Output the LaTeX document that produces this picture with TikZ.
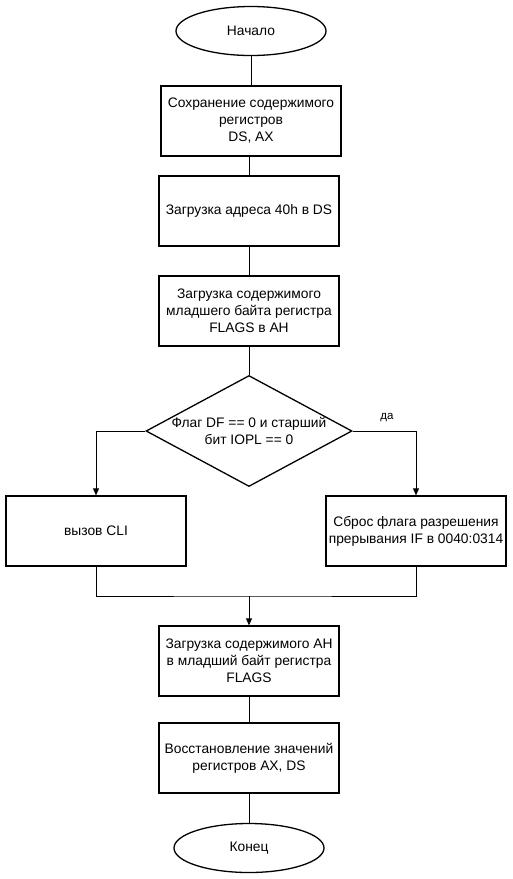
\documentclass[tikz,border=0pt]{standalone}
\usepackage{fontspec}
\setmainfont{Liberation Sans}
\usetikzlibrary{shapes.geometric, arrows.meta}

\tikzset{
    block/.style={draw, line width=1.3pt, minimum width=180pt, minimum height=70pt, inner sep=0.5pt, align=center},
    terminal/.style={draw, ellipse, line width=1.3pt, minimum width=150pt, minimum height=49pt, inner sep=0pt},
    decision/.style={draw, diamond, line width=1.3pt, minimum width=206pt, minimum height=111pt, inner sep=0pt},
    line/.style={line width=0.8pt},
    arrow/.style={line width=0.8pt, -{Triangle[length=7pt, width=6pt]}}
}

\begin{document}
\begin{tikzpicture}[x=1pt, y=-1pt, font=\fontsize{13.8}{17}\selectfont]
        \useasboundingbox (0,0) rectangle (512,879);

        % top part
        \node[terminal] (start) at (251,31) {Начало};
        \node[block] (save) at (251,121) {Сохранение содержимого\\регистров\\DS, AX};
        \node[block] (loadds) at (249,211) {Загрузка адреса 40h в DS};
        \node[block] (loadah) at (249,311) {Загрузка содержимого\\младшего байта регистра\\FLAGS в AH};

        % check
        \node[decision] (check) at (249,431) {};
        \node[align=center] (checktext) at (check.center) {Флаг DF == 0 и старший\\бит IOPL == 0};

        \node[block] (cli) at (96,531) {вызов CLI};
        \node[block] (resetif) at (416,531) {Сброс флага разрешения\\прерывания IF в 0040:0314};

        \coordinate (merge) at (249,596);

        % bottom part
        \node[block] (storeah) at (249,661) {Загрузка содержимого AH\\в младший байт регистра\\FLAGS};
        \node[block] (restore) at (249,758) {Восстановление значений\\регистров AX, DS};
        \node[terminal] (finish) at (249,848) {Конец};

        \draw[line] (start) -- (save);
        \draw[line] (loadds.north |- save.south) -- (loadds.north);
        \draw[line] (loadds) -- (loadah);
        \draw[line] (loadah) -- (check);

        \draw[arrow] (check.west) -| (cli.north);
        \draw[arrow] (check.east) -| (resetif.north) node[pos=0.27, above=5pt, font=\fontsize{11.5}{14}\selectfont] {да};

        \draw[line] (cli.south) |- (merge) -| (resetif.south);
        \draw[arrow] (merge) -- (storeah.north);

        \draw[line] (storeah) -- (restore);
        \draw[line] (restore) -- (finish);
\end{tikzpicture}
\end{document}
